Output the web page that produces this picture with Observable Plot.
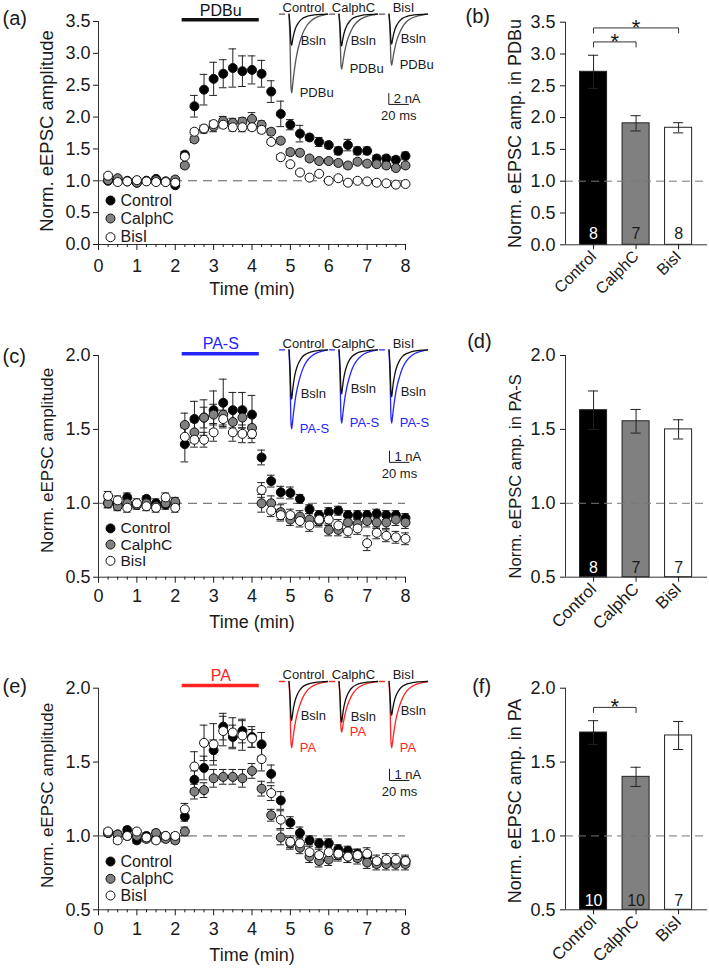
<!DOCTYPE html>
<html><head><meta charset="utf-8">
<script src="https://cdn.jsdelivr.net/npm/d3@7"></script>
<script src="https://cdn.jsdelivr.net/npm/@observablehq/plot@0.6"></script>
<style>
html,body{margin:0;padding:0;background:#fff;}
#fig{position:relative;width:709px;height:968px;overflow:hidden;background:#fff;}
#fig svg{position:absolute;overflow:visible;}
</style></head><body><div id="fig"></div>
<script>
// ---------- data ----------
const groups = ["Control", "CalphC", "BisI"];
const timeMin = [0.25,0.5,0.75,1,1.25,1.5,1.75,2,2.25,2.5,2.75,3,3.25,3.5,3.75,4,4.25,4.5,4.75,5,5.25,5.5,5.75,6,6.25,6.5,6.75,7,7.25,7.5,7.75,8];
const xMajorTicks = [0,1,2,3,4,5,6,7,8];
const xMinorTicks = [0.25,0.5,0.75,1.25,1.5,1.75,2.25,2.5,2.75,3.25,3.5,3.75,4.25,4.5,4.75,5.25,5.5,5.75,6.25,6.5,6.75,7.25,7.5,7.75];
const yTicksPDBu = [0,0.5,1,1.5,2,2.5,3,3.5];
const yTicksPA = [0.5,1,1.5,2];
const drugWindow = [2.18, 4.19];

// (a) PDBu time course
const aControl = [1.00,1.02,0.99,0.97,1.00,1.03,0.99,0.93, 1.41,2.17,2.43,2.60,2.68,2.77,2.72,2.74,2.68, 2.40,2.05,1.88,1.74,1.68,1.61,1.56,1.47,1.56,1.47,1.47,1.35,1.35,1.33,1.39];
const aControlErr = [0.03,0.03,0.03,0.03,0.03,0.03,0.03,0.04, 0.05,0.17,0.24,0.26,0.22,0.30,0.24,0.22,0.21, 0.17,0.20,0.08,0.13,0.05,0.07,0.05,0.06,0.09,0.06,0.06,0.05,0.05,0.05,0.06];
const aCalph = [1.01,1.04,1.00,0.97,1.00,1.01,0.99,1.02, 1.24,1.65,1.81,1.85,1.94,1.91,1.93,1.97,1.88, 1.77,1.63,1.45,1.44,1.35,1.31,1.31,1.28,1.24,1.30,1.27,1.26,1.24,1.20,1.24];
const aCalphErr = [0.03,0.03,0.03,0.03,0.03,0.03,0.03,0.04, 0.04,0.05,0.06,0.08,0.07,0.07,0.06,0.10,0.06, 0.05,0.05,0.05,0.05,0.04,0.04,0.04,0.04,0.04,0.04,0.04,0.04,0.04,0.04,0.04];
const aBisI = [1.08,0.98,0.99,1.01,0.99,0.98,0.98,0.97, 1.38,1.77,1.82,1.89,1.88,1.84,1.84,1.84,1.80, 1.61,1.37,1.26,1.13,1.05,1.11,1.00,1.04,0.97,1.00,0.99,0.97,0.96,0.94,0.95];
const aBisIErr = [0.03,0.03,0.03,0.03,0.03,0.03,0.03,0.03, 0.04,0.04,0.05,0.05,0.05,0.06,0.07,0.05,0.05, 0.04,0.04,0.04,0.03,0.03,0.03,0.03,0.03,0.03,0.03,0.03,0.03,0.03,0.03,0.03];

// (c) PA-S time course
const cControl = [1.00,0.99,1.04,0.99,1.03,1.00,0.99,1.00, 1.40,1.57,1.58,1.63,1.68,1.63,1.63,1.60,1.31, 1.15,1.075,1.07,1.03,0.96,0.92,0.94,0.95,0.92,0.92,0.92,0.93,0.92,0.92,0.90];
const cControlErr = [0.03,0.03,0.03,0.02,0.02,0.03,0.03,0.03, 0.12,0.12,0.12,0.13,0.16,0.12,0.12,0.13,0.05, 0.04,0.04,0.04,0.03,0.03,0.03,0.03,0.03,0.03,0.03,0.03,0.03,0.03,0.03,0.03];
const cCalph = [1.00,0.98,1.00,0.99,1.00,0.98,1.00,1.01, 1.53,1.48,1.58,1.60,1.60,1.55,1.58,1.51,1.00, 1.00,0.94,0.89,0.91,0.89,0.88,0.82,0.82,0.87,0.86,0.88,0.87,0.87,0.89,0.87];
const cCalphErr = [0.03,0.03,0.03,0.03,0.03,0.03,0.03,0.03, 0.08,0.07,0.07,0.07,0.07,0.07,0.07,0.07,0.06, 0.05,0.05,0.04,0.04,0.04,0.04,0.04,0.04,0.04,0.04,0.04,0.04,0.04,0.04,0.04];
const cBisI = [1.05,1.02,0.97,1.00,0.98,0.97,1.04,0.97, 1.45,1.43,1.43,1.48,1.57,1.48,1.47,1.47,1.09, 0.95,0.92,0.92,0.88,0.85,0.89,0.89,0.85,0.81,0.83,0.73,0.80,0.78,0.77,0.76];
const cBisIErr = [0.03,0.03,0.03,0.03,0.03,0.03,0.03,0.03, 0.06,0.05,0.05,0.06,0.06,0.06,0.06,0.06,0.05, 0.04,0.04,0.04,0.04,0.04,0.04,0.04,0.04,0.04,0.04,0.05,0.04,0.04,0.04,0.04];

// (e) PA time course
const eControl = [1.02,1.01,1.04,0.97,1.00,0.98,1.00,0.98, 1.13,1.38,1.46,1.58,1.74,1.67,1.71,1.67,1.62, 1.42,1.24,1.09,1.02,0.97,0.95,0.95,0.91,0.90,0.88,0.86,0.82,0.83,0.82,0.83];
const eControlErr = [0.02,0.02,0.02,0.02,0.02,0.02,0.02,0.02, 0.03,0.06,0.08,0.07,0.09,0.08,0.08,0.07,0.08, 0.06,0.06,0.04,0.04,0.03,0.03,0.03,0.03,0.03,0.03,0.03,0.03,0.03,0.03,0.03];
const eCalph = [1.02,1.01,1.00,1.00,0.98,1.02,0.98,0.97, 1.03,1.30,1.31,1.39,1.40,1.40,1.39,1.44,1.32, 1.14,0.99,0.95,0.92,0.86,0.83,0.84,0.87,0.86,0.85,0.82,0.81,0.81,0.81,0.81];
const eCalphErr = [0.02,0.02,0.02,0.02,0.02,0.02,0.02,0.02, 0.03,0.05,0.05,0.06,0.05,0.05,0.06,0.05,0.05, 0.04,0.05,0.04,0.04,0.04,0.04,0.04,0.04,0.04,0.04,0.04,0.04,0.04,0.04,0.04];
const eBisI = [1.03,0.97,1.00,1.03,0.99,0.97,1.00,1.00, 1.18,1.47,1.63,1.62,1.71,1.70,1.68,1.66,1.52, 1.29,1.11,0.96,0.95,0.89,0.87,0.89,0.88,0.86,0.87,0.88,0.83,0.84,0.84,0.83];
const eBisIErr = [0.02,0.02,0.02,0.02,0.02,0.02,0.02,0.02, 0.04,0.10,0.12,0.14,0.10,0.10,0.10,0.06,0.08, 0.05,0.06,0.04,0.04,0.04,0.04,0.04,0.04,0.04,0.04,0.04,0.04,0.04,0.04,0.04];

// bar summaries
const bMeans = [2.72, 1.91, 1.84], bErrs = [0.26, 0.12, 0.08], bN = [8, 7, 8];
const bSig = [["Control", "CalphC", 3.19], ["Control", "BisI", 3.41]];
const dMeans = [1.63, 1.555, 1.50], dErrs = [0.13, 0.08, 0.065], dN = [8, 7, 7];
const dSig = [];
const fMeans = [1.70, 1.40, 1.68], fErrs = [0.08, 0.065, 0.095], fN = [10, 10, 7];
const fSig = [["Control", "CalphC", 1.87]];

// example eEPSC traces (ms, nA)
const traceMs = [-1.5,-0.5,0.5,1.2,2,3,4.5,6.5,9,12,16,21,27,33,37];
const preMs = [-11, -6];
const trA_CtrlB = [0,-1.93,-5.06,-5.5,-4.68,-3.74,-2.75,-1.93,-1.27,-0.77,-0.44,-0.22,-0.08,-0.03,0];
const trA_CtrlD = [0,-4.87,-12.79,-13.9,-12.79,-11.12,-9.04,-6.95,-5.14,-3.48,-2.09,-1.11,-0.49,-0.17,0];
const trA_CalB = [0,-1.96,-5.15,-5.6,-4.76,-3.81,-2.8,-1.96,-1.29,-0.78,-0.45,-0.22,-0.08,-0.03,0];
const trA_CalD = [0,-3.4,-8.92,-9.7,-8.92,-7.76,-6.31,-4.85,-3.59,-2.43,-1.46,-0.78,-0.34,-0.12,0];
const trA_BisB = [0,-1.86,-4.88,-5.3,-4.51,-3.6,-2.65,-1.86,-1.22,-0.74,-0.42,-0.21,-0.08,-0.03,0];
const trA_BisD = [0,-3.15,-8.28,-9.0,-8.28,-7.2,-5.85,-4.5,-3.33,-2.25,-1.35,-0.72,-0.32,-0.11,0];
const trC_CtrlB = [0,-1.47,-3.86,-4.2,-3.57,-2.86,-2.1,-1.47,-0.97,-0.59,-0.34,-0.17,-0.06,-0.02,0];
const trC_CtrlD = [0,-2.36,-6.21,-6.75,-6.21,-5.4,-4.39,-3.38,-2.5,-1.69,-1.01,-0.54,-0.24,-0.08,0];
const trC_CalB = [0,-1.32,-3.46,-3.76,-3.2,-2.56,-1.88,-1.32,-0.86,-0.53,-0.3,-0.15,-0.06,-0.02,0];
const trC_CalD = [0,-2.18,-5.74,-6.24,-5.74,-4.99,-4.06,-3.12,-2.31,-1.56,-0.94,-0.5,-0.22,-0.07,0];
const trC_BisB = [0,-1.4,-3.68,-4.0,-3.4,-2.72,-2.0,-1.4,-0.92,-0.56,-0.32,-0.16,-0.06,-0.02,0];
const trC_BisD = [0,-2.18,-5.74,-6.24,-5.74,-4.99,-4.06,-3.12,-2.31,-1.56,-0.94,-0.5,-0.22,-0.07,0];
const trE_CtrlB = [0,-1.17,-3.06,-3.33,-2.83,-2.26,-1.67,-1.17,-0.77,-0.47,-0.27,-0.13,-0.05,-0.02,0];
const trE_CtrlD = [0,-1.98,-5.22,-5.67,-5.22,-4.54,-3.69,-2.84,-2.1,-1.42,-0.85,-0.45,-0.2,-0.07,0];
const trE_CalB = [0,-1.22,-3.2,-3.48,-2.96,-2.37,-1.74,-1.22,-0.8,-0.49,-0.28,-0.14,-0.05,-0.02,0];
const trE_CalD = [0,-1.52,-3.98,-4.33,-3.98,-3.46,-2.81,-2.17,-1.6,-1.08,-0.65,-0.35,-0.15,-0.05,0];
const trE_BisB = [0,-1.02,-2.67,-2.9,-2.47,-1.97,-1.45,-1.02,-0.67,-0.41,-0.23,-0.12,-0.04,-0.01,0];
const trE_BisD = [0,-1.98,-5.22,-5.67,-5.22,-4.54,-3.69,-2.84,-2.1,-1.42,-0.85,-0.45,-0.2,-0.07,0];
const scaleA = {ms: 20, nA: 2};
const scaleCE = {ms: 20, nA: 1};

// ---------- styles ----------
const FONT = "'Liberation Sans', Arial, Helvetica, sans-serif";
const dotFill = {Control: "#000", CalphC: "#808080", BisI: "#fff"};
const barFill = ["#000", "#808080", "#fff"];
const nFill = ["#fff", "#1a1a1a", "#1a1a1a"];
const BLUE = "#2424ff", RED = "#ff2424";
const baseStyle = {fontFamily: FONT, fontSize: "16px", color: "#1a1a1a", background: "transparent", overflow: "visible"};
const fig = document.getElementById("fig");
function mount(el, left, top) { el.style.position = "absolute"; el.style.left = left + "px"; el.style.top = top + "px"; fig.appendChild(el); }

function timeCourse(o) {
  const data = groups.flatMap((g, k) => o.v[k].map((v, i) => ({g, t: timeMin[i], v, e: o.e[k][i]})));
  const [y0, y1] = o.yDomain;
  const H = 320;
  const legend = groups.flatMap((g, i) => [
    Plot.dot([g], {frameAnchor: "bottom-left", dx: 12, dy: o.legDy[i], r: 4.5, fill: dotFill[g], stroke: "#111", strokeWidth: 1}),
    Plot.text([g], {frameAnchor: "bottom-left", dx: 22, dy: o.legDy[i], text: d => d, textAnchor: "start", lineAnchor: "middle", fontSize: o.legFs})
  ]);
  return Plot.plot({
    width: 440, height: H,
    marginLeft: 98, marginRight: 35, marginTop: o.frameTop, marginBottom: H - o.frameBottom,
    style: baseStyle,
    x: {domain: [0, 8]},
    y: {domain: o.yDomain},
    marks: [
      Plot.ruleY([1], {stroke: "#5a5a5a", strokeDasharray: "9,6", strokeWidth: 1}),
      Plot.ruleX([0], {stroke: "#333"}),
      Plot.ruleY([y0], {stroke: "#333"}),
      Plot.axisX({ticks: xMinorTicks, tickSize: 3, tickFormat: () => "", label: null}),
      Plot.axisX({ticks: xMajorTicks, tickSize: 6, tickPadding: o.tickPad, tickFormat: d3.format("d"), label: null, fontSize: 18}),
      Plot.axisY({ticks: o.yTicks, tickSize: 5, tickPadding: 3, tickFormat: d3.format(".1f"), label: null, fontSize: 18}),
      Plot.ruleY([y1], {x1: drugWindow[0], x2: drugWindow[1], stroke: o.drugColor, strokeWidth: 3.5, dy: o.barDy}),
      Plot.text([o.drug], {x: (drugWindow[0] + drugWindow[1]) / 2, y: y1, dy: o.drugTextDy, text: d => d, lineAnchor: "bottom", fill: o.drugColor, fontSize: 16}),
      Plot.ruleX(data, {x: "t", y1: d => d.v - d.e, y2: d => d.v + d.e, stroke: "#222"}),
      Plot.ruleY(data, {y: d => d.v + d.e, x1: d => d.t - 0.1, x2: d => d.t + 0.1, stroke: "#222"}),
      Plot.ruleY(data, {y: d => d.v - d.e, x1: d => d.t - 0.1, x2: d => d.t + 0.1, stroke: "#222"}),
      ...groups.map(g => Plot.dot(data.filter(d => d.g === g), {x: "t", y: "v", r: 4.5, fill: dotFill[g], stroke: "#111", strokeWidth: 1})),
      ...legend,
      Plot.text(["Norm. eEPSC amplitude"], {frameAnchor: "left", rotate: -90, dx: -51, dy: o.yTitleDy, text: d => d, textAnchor: "middle", lineAnchor: "middle", fontSize: o.titleFs}),
      Plot.text(["Time (min)"], {frameAnchor: "bottom", dy: 45, text: d => d, lineAnchor: "middle", fontSize: 18}),
      Plot.text([o.label], {frameAnchor: "top-left", dx: -96, dy: o.labDy, text: d => d, textAnchor: "start", lineAnchor: "top", fontSize: 20})
    ]
  });
}

function barPanel(o) {
  const data = groups.map((g, i) => ({g, i, m: o.means[i], e: o.errs[i], n: o.ns[i]}));
  const y0 = o.yDomain[0];
  const xd = [-0.66, 2.68];
  const idx = g => groups.indexOf(g);
  const brackets = o.sig.flatMap((s, j) => [
    {j, x: idx(s[0]), y: s[2] - o.drop}, {j, x: idx(s[0]), y: s[2]},
    {j, x: idx(s[1]), y: s[2]}, {j, x: idx(s[1]), y: s[2] - o.drop}]);
  return Plot.plot({
    width: 269, height: 320,
    marginLeft: 125, marginRight: 2, marginTop: o.frameTop, marginBottom: 320 - o.frameBottom,
    style: baseStyle,
    x: {domain: xd},
    y: {domain: o.yDomain},
    marks: [
      ...data.map(d => Plot.rect([d], {x1: r => r.i - 0.318, x2: r => r.i + 0.318, y1: y0, y2: "m", fill: barFill[d.i], stroke: "#222", strokeWidth: 1})),
      Plot.ruleY([1], {stroke: "#777", strokeDasharray: "8,5"}),
      Plot.ruleX([xd[0]], {stroke: "#333"}),
      Plot.ruleY([y0], {stroke: "#333"}),
      Plot.ruleX(data, {x: "i", y1: d => d.m - d.e, y2: d => d.m + d.e, stroke: "#222"}),
      Plot.ruleY(data, {y: d => d.m + d.e, x1: d => d.i - 0.12, x2: d => d.i + 0.12, stroke: "#222"}),
      Plot.ruleY(data, {y: d => d.m - d.e, x1: d => d.i - 0.12, x2: d => d.i + 0.12, stroke: "#222"}),
      ...data.map(d => Plot.text([d], {x: "i", y: y0, dy: o.nDy, text: r => String(r.n), fill: nFill[d.i], fontSize: 16, lineAnchor: "middle"})),
      Plot.line(brackets, {x: "x", y: "y", z: "j", stroke: "#333", strokeWidth: 1}),
      Plot.text(o.sig, {x: s => (idx(s[0]) + idx(s[1])) / 2, y: s => s[2], text: () => "*", fontSize: 22, lineAnchor: "bottom", dy: 7}),
      Plot.axisY({ticks: o.yTicks, tickSize: 5, tickPadding: 5, tickFormat: d3.format(".1f"), label: null, fontSize: 18}),
      Plot.axisX({ticks: [0, 1, 2], tickFormat: i => groups[i], tickRotate: -45, tickSize: 5, tickPadding: 4, label: null, fontSize: o.catFs}),
      Plot.text([o.title], {frameAnchor: "left", rotate: -90, dx: -50, dy: o.yTitleDy, text: d => d, textAnchor: "middle", lineAnchor: "middle", fontSize: o.titleFs}),
      Plot.text([o.label], {frameAnchor: "top-left", dx: o.labDx, dy: o.labDy, text: d => d, textAnchor: "start", lineAnchor: "top", fontSize: 20})
    ]
  });
}

function inset(o) {
  const lines = [];
  groups.forEach((g, k) => {
    traceMs.forEach((t, i) => lines.push({g, k: "Bsln", t, v: o.traces[k][0][i]}));
    traceMs.forEach((t, i) => lines.push({g, k: o.drug, t, v: o.traces[k][1][i]}));
  });
  const pre = groups.flatMap(g => preMs.map(t => ({g, t, v: 0})));
  const mins = d3.groups(lines, d => d.g, d => d.k).flatMap(([, ks]) => ks.map(([, rows]) => d3.least(rows, r => r.v)));
  const sb = [o.scale];
  const p = o.scalePos;
  return Plot.plot({
    width: 170, height: o.height,
    marginLeft: 9, marginRight: 13, marginTop: o.marginTop, marginBottom: 1,
    style: baseStyle,
    fx: {domain: groups, paddingInner: 0.04, paddingOuter: 0, round: false, axis: null},
    x: {domain: [-11, 37], axis: null},
    y: {domain: o.yDomain, axis: null},
    marks: [
      Plot.line(pre, {fx: "g", x: "t", y: "v", stroke: o.drugColor, strokeWidth: 1.3}),
      Plot.line(lines.filter(d => d.k !== "Bsln"), {fx: "g", x: "t", y: "v", stroke: o.drugColor, strokeWidth: 1.3, curve: "monotone-x"}),
      Plot.line(lines.filter(d => d.k === "Bsln"), {fx: "g", x: "t", y: "v", stroke: o.bslnColor, strokeWidth: 1.3, curve: "monotone-x"}),
      Plot.text(groups, {fx: d => d, y: 0, dy: -2, text: d => d, lineAnchor: "bottom", fontSize: 13}),
      Plot.text(mins.filter(d => d.k === "Bsln"), {fx: "g", x: "t", y: "v", dx: 9, dy: -5, text: () => "Bsln", textAnchor: "start", fontSize: 13, fill: "#1a1a1a"}),
      Plot.text(mins.filter(d => d.k !== "Bsln"), {fx: "g", x: "t", y: "v", dx: 8, dy: 0, text: d => d.k, textAnchor: "start", fontSize: 13, fill: o.labelColor}),
      Plot.link(sb, {fx: () => "BisI", x1: () => p.x, x2: () => p.x, y1: () => p.y, y2: s => p.y + s.nA, stroke: "#1a1a1a"}),
      Plot.link(sb, {fx: () => "BisI", x1: () => p.x, x2: s => p.x + s.ms, y1: () => p.y, y2: () => p.y, stroke: "#1a1a1a"}),
      Plot.text(sb, {fx: () => "BisI", x: () => p.x, y: s => p.y + s.nA / 2, dx: 5, text: s => `${s.nA} nA`, textAnchor: "start", fontSize: 13}),
      Plot.text(sb, {fx: () => "BisI", x: s => p.x + s.ms / 2, y: () => p.y, dy: 11.5, text: s => `${s.ms} ms`, lineAnchor: "middle", fontSize: 13})
    ]
  });
}

// ---------- row 1 ----------
mount(timeCourse({
  v: [aControl, aCalph, aBisI], e: [aControlErr, aCalphErr, aBisIErr],
  yDomain: [0, 3.5], yTicks: yTicksPDBu, frameTop: 21, frameBottom: 244,
  drug: "PDBu", drugColor: "#111", barDy: -1.7, drugTextDy: -5.5,
  legDy: [-44, -26, -7.3], legFs: 16, tickPad: 9, titleFs: 18.5, yTitleDy: -2, label: "(a)", labDy: -11
}), 0, 0);
mount(barPanel({
  means: bMeans, errs: bErrs, ns: bN, sig: bSig, drop: 0.08,
  yDomain: [0, 3.5], yTicks: yTicksPDBu, frameTop: 21.7, frameBottom: 244.3, nDy: -11,
  title: "Norm. eEPSC amp. in PDBu", titleFs: 18, yTitleDy: 0, catFs: 16,
  label: "(b)", labDx: -100, labDy: -13.4
}), 440, 0);
mount(inset({
  traces: [[trA_CtrlB, trA_CtrlD], [trA_CalB, trA_CalD], [trA_BisB, trA_BisD]],
  drug: "PDBu", drugColor: "#555", labelColor: "#1a1a1a", bslnColor: "#111",
  height: 128, marginTop: 8, yDomain: [-20, 1], scale: scaleA, scalePos: {x: -1.7, y: -15.93}
}), 270, 0);

// ---------- row 2 ----------
mount(timeCourse({
  v: [cControl, cCalph, cBisI], e: [cControlErr, cCalphErr, cBisIErr],
  yDomain: [0.5, 2], yTicks: yTicksPA, frameTop: 35, frameBottom: 256.7,
  drug: "PA-S", drugColor: BLUE, barDy: -1.7, drugTextDy: -6.5,
  legDy: [-48.8, -32.6, -16.4], legFs: 15.5, tickPad: 6.5, titleFs: 17, yTitleDy: -6, label: "(c)", labDy: -6.7
}), 0, 320);
mount(barPanel({
  means: dMeans, errs: dErrs, ns: dN, sig: dSig, drop: 0.035,
  yDomain: [0.5, 2], yTicks: yTicksPA, frameTop: 35, frameBottom: 256.7, nDy: -9,
  title: "Norm. eEPSC amp. in PA-S", titleFs: 16.5, yTitleDy: 10, catFs: 17,
  label: "(d)", labDx: -98.3, labDy: -21.7
}), 440, 320);
mount(inset({
  traces: [[trC_CtrlB, trC_CtrlD], [trC_CalB, trC_CalD], [trC_BisB, trC_BisD]],
  drug: "PA-S", drugColor: BLUE, labelColor: BLUE, bslnColor: "#111",
  height: 171, marginTop: 17.6, yDomain: [-12, 1], scale: scaleCE, scalePos: {x: -1, y: -9.6}
}), 270, 320);

// ---------- row 3 ----------
mount(timeCourse({
  v: [eControl, eCalph, eBisI], e: [eControlErr, eCalphErr, eBisIErr],
  yDomain: [0.5, 2], yTicks: yTicksPA, frameTop: 47.7, frameBottom: 269.3,
  drug: "PA", drugColor: RED, barDy: -2.7, drugTextDy: -7.7,
  legDy: [-48.3, -31, -14.3], legFs: 16, tickPad: 6.5, titleFs: 17, yTitleDy: -3.5, label: "(e)", labDy: -9.4
}), 0, 640);
mount(barPanel({
  means: fMeans, errs: fErrs, ns: fN, sig: fSig, drop: 0.035,
  yDomain: [0.5, 2], yTicks: yTicksPA, frameTop: 47.7, frameBottom: 269.3, nDy: -9,
  title: "Norm. eEPSC amp. in PA", titleFs: 18, yTitleDy: 2, catFs: 17,
  label: "(f)", labDx: -93.3, labDy: -9.4
}), 440, 640);
mount(inset({
  traces: [[trE_CtrlB, trE_CtrlD], [trE_CalB, trE_CalD], [trE_BisB, trE_BisD]],
  drug: "PA", drugColor: RED, labelColor: RED, bslnColor: "#111",
  height: 182.4, marginTop: 29.3, yDomain: [-12, 1], scale: scaleCE, scalePos: {x: -1, y: -8.46}
}), 270, 640);
</script></body></html>
